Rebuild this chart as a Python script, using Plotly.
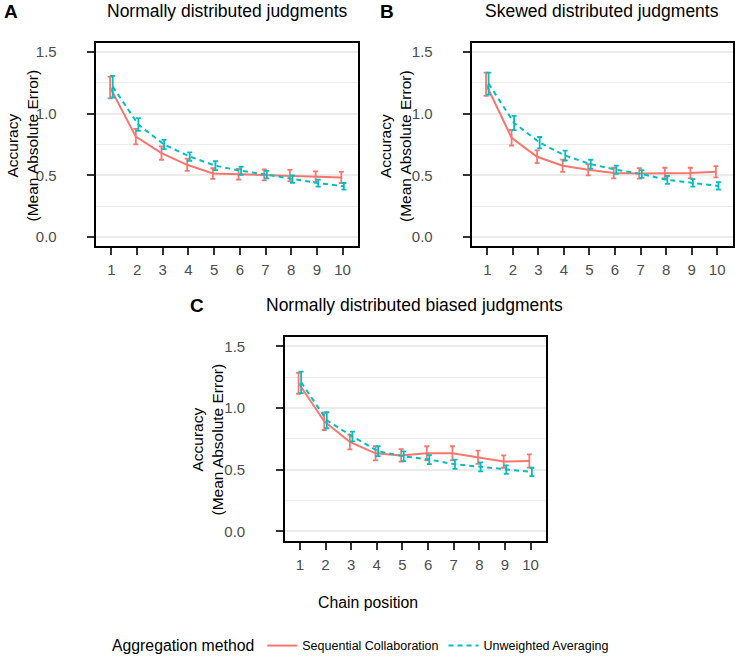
import plotly.graph_objects as go

# ---------------- data ----------------
chain_position = [1, 2, 3, 4, 5, 6, 7, 8, 9, 10]
x_ticks = [1, 2, 3, 4, 5, 6, 7, 8, 9, 10]
y_tick_vals = [0, 0.5, 1.0, 1.5]
y_tick_text = ["0.0", "0.5", "1.0", "1.5"]

methods = ["Sequential Collaboration", "Unweighted Averaging"]

# Panel A: Normally distributed judgments
a_seq = [1.213, 0.814, 0.680, 0.585, 0.514, 0.508, 0.503, 0.498, 0.488, 0.482]
a_seq_err = [0.088, 0.063, 0.054, 0.050, 0.043, 0.043, 0.044, 0.045, 0.043, 0.045]
a_avg = [1.220, 0.912, 0.750, 0.652, 0.578, 0.536, 0.505, 0.468, 0.436, 0.410]
a_avg_err = [0.088, 0.052, 0.037, 0.034, 0.036, 0.033, 0.030, 0.030, 0.028, 0.027]

# Panel B: Skewed distributed judgments
b_seq = [1.240, 0.805, 0.650, 0.577, 0.545, 0.518, 0.515, 0.518, 0.518, 0.528]
b_seq_err = [0.095, 0.063, 0.052, 0.050, 0.046, 0.043, 0.043, 0.043, 0.043, 0.046]
b_avg = [1.245, 0.925, 0.765, 0.660, 0.590, 0.545, 0.510, 0.462, 0.438, 0.413]
b_avg_err = [0.090, 0.058, 0.046, 0.040, 0.036, 0.034, 0.032, 0.032, 0.030, 0.030]

# Panel C: Normally distributed biased judgments
c_seq = [1.200, 0.891, 0.724, 0.632, 0.615, 0.632, 0.632, 0.600, 0.565, 0.570]
c_seq_err = [0.085, 0.070, 0.060, 0.058, 0.051, 0.057, 0.057, 0.054, 0.050, 0.054]
c_avg = [1.207, 0.900, 0.768, 0.649, 0.608, 0.581, 0.543, 0.522, 0.500, 0.481]
c_avg_err = [0.087, 0.065, 0.040, 0.040, 0.040, 0.037, 0.037, 0.037, 0.034, 0.034]

panel_titles = ["Normally distributed judgments", "Skewed distributed judgments",
                "Normally distributed biased judgments"]
panel_letters = ["A", "B", "C"]

# ---------------- style ----------------
FONT = "Liberation Sans, Arial, Helvetica, sans-serif"
RED = "#F8766D"
TEAL = "#00BFC4"
DODGE = 0.05
W, H = 735, 658
PAD = "\u00a0\u00a0"

panels = [
    dict(seq=a_seq, seq_err=a_seq_err, avg=a_avg, avg_err=a_avg_err,
         xd=[96, 358], yd=[43, 246]),
    dict(seq=b_seq, seq_err=b_seq_err, avg=b_avg, avg_err=b_avg_err,
         xd=[472, 732.5], yd=[43, 246]),
    dict(seq=c_seq, seq_err=c_seq_err, avg=c_avg, avg_err=c_avg_err,
         xd=[284.5, 546], yd=[337, 540.5]),
]

fig = go.Figure()

for i, p in enumerate(panels):
    sfx = "" if i == 0 else str(i + 1)
    xs = [x - DODGE for x in chain_position]
    xa = [x + DODGE for x in chain_position]
    fig.add_trace(go.Scatter(
        x=xs, y=p["seq"], mode="lines", name=methods[0], legendgroup="seq",
        showlegend=(i == 0), xaxis="x" + sfx, yaxis="y" + sfx,
        line=dict(color=RED, width=2),
        error_y=dict(type="data", array=p["seq_err"], color=RED, thickness=1.8, width=2.5),
    ))
    fig.add_trace(go.Scatter(
        x=xa, y=p["avg"], mode="lines", name=methods[1], legendgroup="avg",
        showlegend=(i == 0), xaxis="x" + sfx, yaxis="y" + sfx,
        line=dict(color=TEAL, width=2, dash="5px,4px"),
        error_y=dict(type="data", array=p["avg_err"], color=TEAL, thickness=1.8, width=2.5),
    ))

    xdom = [p["xd"][0] / W, p["xd"][1] / W]
    ydom = [1 - p["yd"][1] / H, 1 - p["yd"][0] / H]
    axis_common = dict(showline=True, linecolor="black", linewidth=2, mirror=True,
                       ticks="outside", ticklen=7, tickwidth=1.5, tickcolor="#333333",
                       tickfont=dict(family=FONT, size=15, color="#4D4D4D"),
                       zeroline=False, fixedrange=True)
    fig.layout["xaxis" + sfx] = dict(
        domain=xdom, anchor="y" + sfx, range=[0.4, 10.6], tickvals=x_ticks,
        showgrid=False, ticklabelstandoff=2, **axis_common)
    fig.layout["yaxis" + sfx] = dict(
        domain=ydom, anchor="x" + sfx, range=[-0.075, 1.575], tickvals=y_tick_vals,
        ticktext=[t + PAD for t in y_tick_text], showgrid=True, gridcolor="#EBEBEB",
        gridwidth=1.5,
        minor=dict(tickvals=[0.25, 0.75, 1.25], showgrid=True, gridcolor="#EBEBEB",
                   gridwidth=1, ticks=""),
        ticklabelstandoff=19, **axis_common)

annotations = []
# panel letters and titles
letter_pos = [(1.5, 11), (378, 11), (188, 305)]
title_pos = [(227, 11), (602, 11), (415, 305)]
for (lx, ly), (tx, ty), letter, title in zip(letter_pos, title_pos, panel_letters, panel_titles):
    annotations.append(dict(text="<b>%s</b>" % letter, x=lx / W, y=1 - ly / H,
                            xref="paper", yref="paper", xanchor="left", yanchor="middle",
                            showarrow=False, font=dict(family=FONT, size=19, color="black")))
    annotations.append(dict(text=title, x=tx / W, y=1 - ty / H,
                            xref="paper", yref="paper", xanchor="center", yanchor="middle",
                            showarrow=False, font=dict(family=FONT, size=17.5, color="black")))
# y axis titles
for (yx, yy) in [(21.5, 146), (395, 146), (206.5, 440)]:
    annotations.append(dict(text="Accuracy<br>(Mean Absolute Error)", x=yx / W, y=1 - yy / H,
                            xref="paper", yref="paper", xanchor="center", yanchor="middle",
                            textangle=-90, showarrow=False,
                            font=dict(family=FONT, size=15.5, color="black")))
# x axis title
annotations.append(dict(text="Chain position", x=367.5 / W, y=1 - 602 / H,
                        xref="paper", yref="paper", xanchor="center", yanchor="middle",
                        showarrow=False, font=dict(family=FONT, size=15.8, color="black")))

fig.update_layout(
    width=W, height=H,
    margin=dict(l=0, r=0, t=0, b=0, autoexpand=False),
    paper_bgcolor="white", plot_bgcolor="white",
    font=dict(family=FONT, color="black"),
    annotations=annotations,
    legend=dict(orientation="h", x=110 / W, xanchor="left", y=-0.006, yanchor="bottom",
                title=dict(text="Aggregation method", side="left",
                           font=dict(family=FONT, size=15.8, color="black")),
                font=dict(family=FONT, size=12.5, color="black"),
                itemwidth=30, tracegroupgap=0,
                bgcolor="rgba(0,0,0,0)"),
)

fig.write_html("out.html")
